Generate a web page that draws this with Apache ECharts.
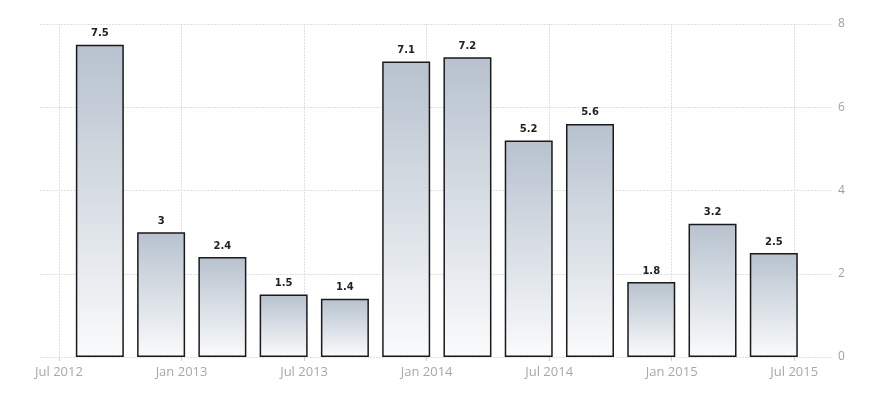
<!DOCTYPE html>
<html>
<head>
<meta charset="utf-8">
<script src="https://cdn.jsdelivr.net/npm/echarts@6/dist/echarts.min.js"></script>
<style>html,body{margin:0;padding:0;background:#fff}#c{width:888px;height:400px}</style>
</head>
<body>
<div id="c"></div>
<script>
// Quarter periods (month of quarter end-ish) and values
const periods = ['2012-09','2012-12','2013-03','2013-06','2013-09','2013-12','2014-03','2014-06','2014-09','2014-12','2015-03','2015-06'];
const values = [7.5, 3, 2.4, 1.5, 1.4, 7.1, 7.2, 5.2, 5.6, 1.8, 3.2, 2.5];
const tickDates = ['2012-07','2013-01','2013-07','2014-01','2014-07','2015-01','2015-07'];
const tickLabels = ['Jul 2012','Jan 2013','Jul 2013','Jan 2014','Jul 2014','Jan 2015','Jul 2015'];
const yTicks = [0, 2, 4, 6, 8];

function monthIdx(s){ const [y,m] = s.split('-').map(Number); return (y-2012)*12 + (m-7); }
const tickVals = tickDates.map(monthIdx);
const data = periods.map((p,i)=>[monthIdx(p), values[i]]);

const chart = echarts.init(document.getElementById('c'), null, {renderer:'canvas'});
chart.setOption({
  animation:false,
  grid:{left:40, right:56, top:24, bottom:43, containLabel:false},
  xAxis:{
    type:'value', min:-0.93, max:37.85,
    axisLine:{show:false},
    axisTick:{show:true, customValues:tickVals, length:4, lineStyle:{color:'#cccccc'}},
    axisLabel:{customValues:tickVals, color:'#a8a8a8', fontFamily:'Open Sans', fontSize:13, margin:9,
      formatter:(v)=>{const i=tickVals.indexOf(Math.round(v)); return i>=0?tickLabels[i]:'';}},
    splitLine:{show:true, lineStyle:{color:'#e0e0e0', type:[2,1], width:1}}
  },
  yAxis:{
    type:'value', position:'right', min:0, max:8, interval:2,
    axisLine:{show:false}, axisTick:{show:false},
    axisLabel:{customValues:yTicks, color:'#a0a0a0', fontFamily:'Open Sans', fontSize:12, margin:6},
    splitLine:{show:true, lineStyle:{color:'#e0e0e0', type:[2,1], width:1}}
  },
  series:[{
    type:'bar', data:data, barWidth:48,
    itemStyle:{
      color:new echarts.graphic.LinearGradient(0,0,0,1,[{offset:0,color:'#b7c2ce'},{offset:1,color:'#fafbfc'}]),
      borderColor:'#1a1a1a', borderWidth:1.5
    },
    label:{show:true, position:'top', distance:6, color:'#222', fontWeight:'bold', fontSize:10, fontFamily:'DejaVu Sans',
      formatter:(p)=>String(p.value[1])}
  }]
});
</script>
</body>
</html>
